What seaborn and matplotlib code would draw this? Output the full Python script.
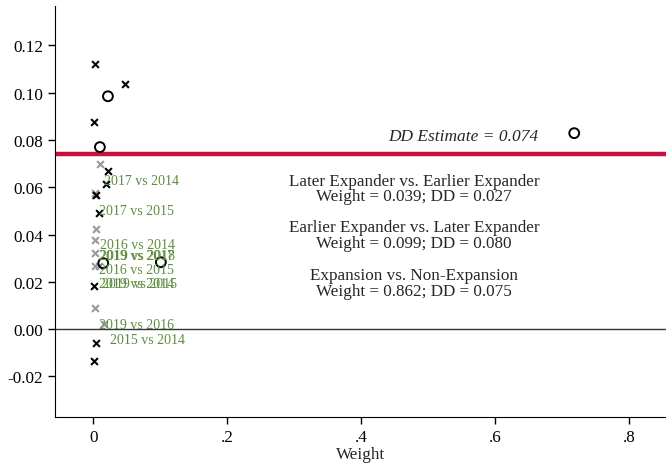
import numpy as np
import pandas as pd
import matplotlib.pyplot as plt
import seaborn as sns

# Data
# Later vs earlier expander comparisons (black x)
later_w = [0.003, 0.048, 0.001, 0.022, 0.019, 0.004, 0.009, 0.001, 0.004, 0.001]
later_dd = [0.112, 0.1035, 0.0875, 0.0668, 0.0613, 0.0567, 0.049, 0.0182, -0.006, -0.0136]

# Earlier vs later expander comparisons (gray x)
earlier_w = [0.010, 0.003, 0.003, 0.004, 0.002, 0.002, 0.003, 0.008, 0.002, 0.016]
earlier_dd = [0.0698, 0.0575, 0.0567, 0.0423, 0.0378, 0.0322, 0.0266, 0.0266, 0.0089, 0.002]

# Expansion vs non-expansion (hollow circles)
exp_w = [0.015, 0.101, 0.010, 0.022, 0.718]
exp_dd = [0.0279, 0.0283, 0.077, 0.0985, 0.0829]

dd_estimate = 0.074

# Year labels (left edge, vertical centre)
lab_text = ['2017 vs 2014', '2017 vs 2015', '2016 vs 2014', '2019 vs 2017', '2019 vs 2018',
            '2016 vs 2015', '2019 vs 2014', '2019 vs 2015', '2019 vs 2016', '2015 vs 2014']
lab_x = [0.016, 0.009, 0.010, 0.009, 0.010, 0.009, 0.009, 0.013, 0.009, 0.025]
lab_y = [0.063, 0.0503, 0.036, 0.031, 0.031, 0.0254, 0.0195, 0.0195, 0.002, -0.0042]

summary_title = ['Later Expander vs. Earlier Expander',
                 'Earlier Expander vs. Later Expander',
                 'Expansion vs. Non-Expansion']
summary_weight = [0.039, 0.099, 0.862]
summary_dd = [0.027, 0.080, 0.075]
summary_y = [0.0595, 0.0398, 0.0195]

sns.set_style('white')
plt.rcParams['font.family'] = ['Liberation Serif', 'DejaVu Serif']

fig = plt.figure(figsize=(6.66, 4.64), dpi=100)
ax = fig.add_axes([0.0826, 0.099, 0.9174, 0.885])

ax.axhline(0, color='#333333', lw=1.0, zorder=1)
ax.axhline(dd_estimate, color='#c8103e', lw=3.2, zorder=2)

sns.scatterplot(x=earlier_w, y=earlier_dd, marker='x', s=24, color='#999999',
                linewidth=1.5, ax=ax, zorder=3)
sns.scatterplot(x=later_w, y=later_dd, marker='x', s=24, color='black',
                linewidth=1.5, ax=ax, zorder=4)
sns.scatterplot(x=exp_w, y=exp_dd, marker='o', s=50, facecolor='none',
                edgecolor='black', linewidth=1.4, ax=ax, zorder=5)

for t, x, y in zip(lab_text, lab_x, lab_y):
    ax.text(x, y, t, color='#5e8c3f', fontsize=10, ha='left', va='center', zorder=6)

ax.text(0.552, 0.0816, 'DD Estimate = {:.3f}'.format(dd_estimate), style='italic',
        fontsize=12.5, ha='center', va='center')
for t, w, d, y in zip(summary_title, summary_weight, summary_dd, summary_y):
    ax.text(0.479, y, t + '\nWeight = {:.3f}; DD = {:.3f}'.format(w, d),
            fontsize=12.3, ha='center', va='center', linespacing=0.95)

ax.set_xlim(-0.057, 0.855)
ax.set_ylim(-0.0372, 0.1365)
ax.set_xticks([0, 0.2, 0.4, 0.6, 0.8])
ax.set_xticklabels(['0', '.2', '.4', '.6', '.8'])
yt = [-0.02, 0, 0.02, 0.04, 0.06, 0.08, 0.10, 0.12]
ax.set_yticks(yt)
ax.set_yticklabels(['{:.2f}'.format(v) for v in yt])
ax.tick_params(axis='both', direction='out', length=5, width=1, labelsize=12.3,
               color='black', labelcolor='black', bottom=True, left=True)
ax.set_xlabel('Weight', fontsize=12.3, labelpad=1)
ax.set_ylabel('')

sns.despine(ax=ax)
ax.spines['left'].set_color('black')
ax.spines['bottom'].set_color('black')

fig.savefig('out.png', dpi=100)
